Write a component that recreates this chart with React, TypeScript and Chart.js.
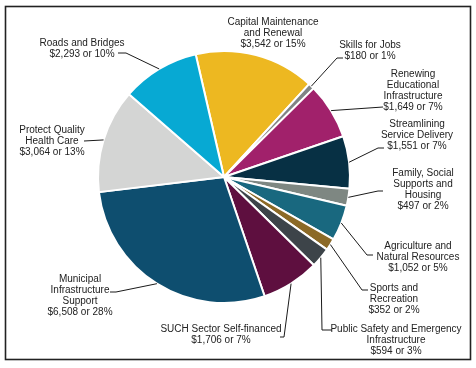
import React, { useEffect, useRef } from "react";
import { Chart, registerables } from "chart.js";

Chart.register(...registerables);

// ---- Data ----
const categories: string[][] = [
  ["Capital Maintenance", "and Renewal"],
  ["Skills for Jobs"],
  ["Renewing", "Educational", "Infrastructure"],
  ["Streamlining", "Service Delivery"],
  ["Family, Social", "Supports and", "Housing"],
  ["Agriculture and", "Natural Resources"],
  ["Sports and", "Recreation"],
  ["Public Safety and Emergency", "Infrastructure"],
  ["SUCH Sector Self-financed"],
  ["Municipal", "Infrastructure", "Support"],
  ["Protect Quality", "Health Care"],
  ["Roads and Bridges"],
];

const values: number[] = [3542, 180, 1649, 1551, 497, 1052, 352, 594, 1706, 6508, 3064, 2293];

const colors: string[] = [
  "#EDB821",
  "#7F8484",
  "#A1216B",
  "#073044",
  "#7E8782",
  "#19687F",
  "#8C6A27",
  "#3D4449",
  "#5E0F3F",
  "#0E4E6F",
  "#D4D5D4",
  "#07A9D3",
];

// ---- Label layout (text centre x, first line y, leader points from text end towards slice) ----
const labelLayout: { x: number; y: number; leader: [number, number][] }[] = [
  { x: 273, y: 22, leader: [] },
  { x: 370, y: 45, leader: [[343, 58], [337, 58]] },
  { x: 413, y: 74, leader: [[383, 107]] },
  { x: 417, y: 124, leader: [[384, 148], [378, 148]] },
  { x: 423, y: 173, leader: [[383, 191], [378, 191]] },
  { x: 418, y: 246, leader: [[373, 255], [367, 255]] },
  { x: 394, y: 288, leader: [[368, 290], [362, 290]] },
  { x: 396, y: 329, leader: [[332, 330], [322, 330]] },
  { x: 221, y: 329, leader: [[280, 337], [284, 337]] },
  { x: 80, y: 279, leader: [[110, 292], [116, 292]] },
  { x: 52, y: 130, leader: [[84, 141]] },
  { x: 82, y: 43, leader: [[118, 53], [126, 53]] },
];

const LINE_H = 11.2;

const fmt = (v: number) => "$" + v.toLocaleString("en-US");

const labelPlugin = {
  id: "outerLabels",
  afterDraw(chart: any) {
    const ctx = chart.ctx as CanvasRenderingContext2D;
    const meta = chart.getDatasetMeta(0);
    const total = values.reduce((a, b) => a + b, 0);
    ctx.save();
    // frame
    ctx.strokeStyle = "#222";
    ctx.lineWidth = 1.6;
    ctx.strokeRect(5.5, 6.5, 465, 353);

    ctx.font = "10px 'Liberation Sans', Arial, sans-serif";
    ctx.fillStyle = "#222";
    ctx.textAlign = "center";
    ctx.textBaseline = "middle";
    meta.data.forEach((arc: any, i: number) => {
      const lay = labelLayout[i];
      const lines = [...categories[i], `${fmt(values[i])} or ${Math.round((values[i] / total) * 100)}%`];
      lines.forEach((ln, k) => ctx.fillText(ln, lay.x, lay.y + k * LINE_H));
      if (lay.leader.length) {
        const p = arc.getProps(["x", "y", "startAngle", "endAngle", "outerRadius"], true);
        const mid = (p.startAngle + p.endAngle) / 2;
        const sx = p.x + Math.cos(mid) * p.outerRadius;
        const sy = p.y + Math.sin(mid) * p.outerRadius;
        ctx.beginPath();
        ctx.strokeStyle = "#1a1a1a";
        ctx.lineWidth = 1;
        ctx.moveTo(lay.leader[0][0], lay.leader[0][1]);
        for (let k = 1; k < lay.leader.length; k++) ctx.lineTo(lay.leader[k][0], lay.leader[k][1]);
        ctx.lineTo(sx, sy);
        ctx.stroke();
      }
    });
    ctx.restore();
  },
};

export default function App() {
  const ref = useRef<HTMLCanvasElement | null>(null);
  useEffect(() => {
    if (!ref.current) return;
    const chart = new Chart(ref.current, {
      type: "pie",
      data: {
        labels: categories.map((c) => c.join(" ")),
        datasets: [
          {
            data: values,
            backgroundColor: colors,
            borderColor: "#ffffff",
            borderWidth: 2,
          },
        ],
      },
      options: {
        responsive: false,
        animation: false,
        rotation: -13,
        layout: { padding: { left: 97, right: 125, top: 50, bottom: 64 } },
        plugins: {
          legend: { display: false },
          tooltip: { enabled: false },
          title: { display: false },
        },
      },
      plugins: [labelPlugin],
    });
    return () => chart.destroy();
  }, []);
  return (
    <div style={{ position: "fixed", left: 0, top: 0, width: 476, height: 368, background: "#fff" }}>
      <canvas ref={ref} width={476} height={368} style={{ display: "block" }} />
    </div>
  );
}
